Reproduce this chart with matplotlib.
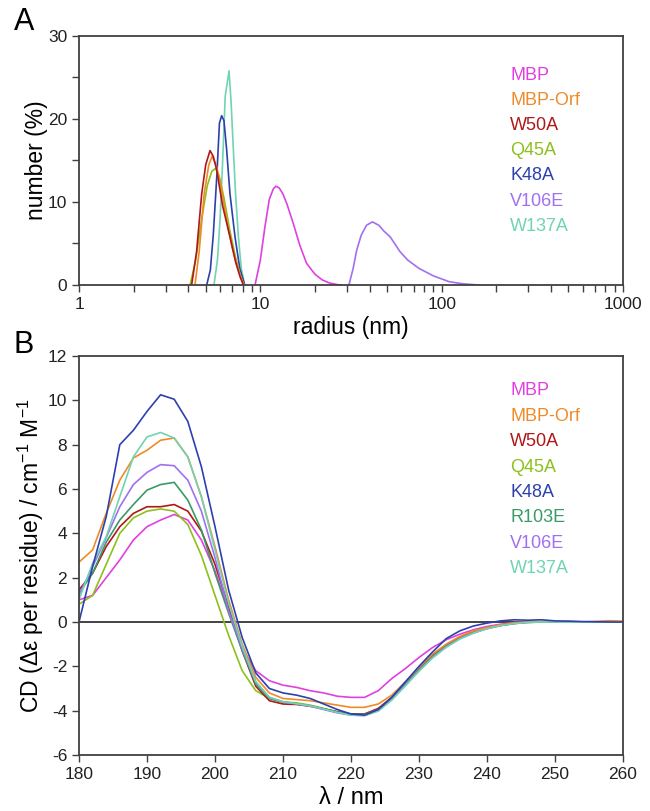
import matplotlib
matplotlib.use("Agg")
import matplotlib.pyplot as plt
from matplotlib.ticker import MultipleLocator, LogLocator, NullFormatter, FixedLocator

plt.rcParams['font.family'] = ['Liberation Sans', 'DejaVu Sans']
plt.rcParams['axes.unicode_minus'] = False

# ---------------- Panel A: DLS size distributions ----------------
names_a = ["MBP", "MBP-Orf", "W50A", "Q45A", "K48A", "V106E", "W137A"]

mbp_r = [9.35, 10.0, 10.6, 11.2, 11.8, 12.2, 12.7, 13.3, 14.0, 15.2, 16.5, 18.0, 20.0, 22.0, 24.0, 26.5, 28.0]
mbp_v = [0, 3.0, 7.0, 10.3, 11.6, 11.9, 11.7, 11.0, 9.8, 7.4, 4.8, 2.6, 1.3, 0.6, 0.25, 0.05, 0]

orf_r = [4.36, 4.6, 4.9, 5.2, 5.42, 5.7, 6.0, 6.5, 7.0, 7.5, 8.0, 8.2]
orf_v = [0, 4.0, 11.0, 14.5, 15.5, 14.5, 12.5, 8.0, 4.5, 2.0, 0.3, 0]

w50a_r = [4.18, 4.45, 4.75, 5.0, 5.28, 5.5, 5.74, 6.2, 6.8, 7.3, 7.73, 8.06]
w50a_v = [0, 4.0, 11.0, 14.5, 16.2, 15.5, 13.9, 9.5, 5.8, 2.8, 1.0, 0]

q45a_r = [4.1, 4.4, 4.75, 5.1, 5.4, 5.67, 5.95, 6.3, 6.8, 7.3, 7.8, 8.1]
q45a_v = [0, 3.0, 8.0, 12.0, 13.7, 14.05, 13.0, 10.5, 6.5, 3.3, 1.0, 0]

k48a_r = [5.06, 5.3, 5.5, 5.75, 5.95, 6.12, 6.3, 6.52, 6.8, 7.25, 7.7, 8.2]
k48a_v = [0, 1.8, 6.0, 13.0, 19.5, 20.4, 19.8, 16.3, 11.0, 5.8, 2.0, 0]

v106e_r = [30.8, 32.5, 34.0, 36.0, 38.5, 41.5, 45.0, 48.0, 52.0, 59.0, 65.0, 75.0, 90.0, 110.0, 130.0, 160.0]
v106e_v = [0, 2.0, 4.2, 6.0, 7.2, 7.6, 7.2, 6.5, 5.8, 4.0, 3.0, 2.0, 1.1, 0.4, 0.15, 0]

w137a_r = [5.55, 5.8, 6.0, 6.2, 6.4, 6.72, 6.9, 7.1, 7.3, 7.57, 7.85, 8.2]
w137a_v = [0, 3.0, 8.0, 15.0, 22.7, 25.8, 22.0, 16.3, 11.0, 5.8, 2.0, 0]

# ---------------- Panel B: CD spectra ----------------
names_b = ["MBP", "MBP-Orf", "W50A", "Q45A", "K48A", "R103E", "V106E", "W137A"]

wl = [180, 182, 184, 186, 188, 190, 192, 194, 196, 198, 200, 202, 204, 206, 208, 210,
      212, 214, 216, 218, 220, 222, 224, 226, 228, 230, 232, 234, 236, 238, 240, 242,
      244, 246, 248, 250, 252, 254, 256, 258, 260]

cd_mbp = [1.0, 1.2, 2.0, 2.8, 3.7, 4.3, 4.6, 4.85, 4.6, 3.7, 2.3, 0.5, -1.2, -2.2, -2.65, -2.85,
          -2.95, -3.1, -3.2, -3.35, -3.4, -3.4, -3.1, -2.55, -2.1, -1.6, -1.15, -0.8, -0.55, -0.35, -0.2, -0.1,
          -0.03, 0.0, 0.0, 0.0, 0.0, 0.0, 0.0, 0.0, 0.0]
cd_orf = [2.7, 3.25, 4.9, 6.4, 7.4, 7.75, 8.2, 8.3, 7.45, 5.65, 3.4, 1.0, -1.0, -2.5, -3.2, -3.45,
          -3.5, -3.55, -3.65, -3.75, -3.85, -3.85, -3.7, -3.3, -2.7, -2.05, -1.45, -1.0, -0.65, -0.4, -0.25, -0.12,
          -0.04, 0.0, 0.02, 0.0, 0.02, 0.0, 0.03, 0.06, 0.04]
cd_w50a = [1.45, 2.2, 3.4, 4.3, 4.9, 5.2, 5.2, 5.3, 5.0, 4.1, 2.6, 0.7, -1.3, -2.9, -3.55, -3.7,
           -3.72, -3.8, -3.92, -4.05, -4.15, -4.15, -3.9, -3.4, -2.75, -2.1, -1.5, -1.05, -0.7, -0.45, -0.28, -0.15,
           -0.06, 0.0, 0.0, 0.0, 0.0, 0.0, 0.0, 0.0, 0.0]
cd_q45a = [0.8, 1.2, 2.6, 4.0, 4.7, 5.0, 5.1, 5.0, 4.4, 3.0, 1.2, -0.6, -2.2, -3.1, -3.45, -3.6,
           -3.65, -3.75, -3.9, -4.05, -4.15, -4.15, -3.95, -3.45, -2.8, -2.15, -1.55, -1.1, -0.72, -0.47, -0.3, -0.16,
           -0.07, -0.02, 0.0, 0.0, 0.0, 0.0, 0.0, 0.0, 0.0]
cd_k48a = [0.0, 2.5, 4.75, 8.0, 8.65, 9.5, 10.25, 10.05, 9.05, 7.0, 4.3, 1.45, -0.7, -2.3, -3.0, -3.2,
           -3.3, -3.45, -3.7, -3.95, -4.15, -4.2, -3.95, -3.4, -2.7, -2.0, -1.35, -0.75, -0.4, -0.18, -0.05, 0.05,
           0.1, 0.08, 0.1, 0.05, 0.04, 0.02, 0.01, 0.0, 0.0]
cd_r103e = [1.3, 2.2, 3.6, 4.6, 5.3, 5.95, 6.2, 6.3, 5.5, 4.15, 2.2, 0.4, -1.3, -2.8, -3.45, -3.62,
            -3.68, -3.78, -3.92, -4.07, -4.17, -4.17, -3.95, -3.45, -2.8, -2.15, -1.55, -1.08, -0.72, -0.46, -0.28, -0.15,
            -0.06, 0.0, 0.0, 0.0, 0.0, 0.0, 0.0, 0.0, 0.0]
cd_v106e = [1.2, 2.5, 3.8, 5.2, 6.2, 6.75, 7.1, 7.05, 6.4, 5.0, 2.9, 0.5, -1.2, -2.7, -3.4, -3.6,
            -3.7, -3.8, -3.95, -4.1, -4.2, -4.22, -4.0, -3.5, -2.85, -2.2, -1.6, -1.12, -0.75, -0.5, -0.3, -0.16,
            -0.07, -0.02, 0.0, 0.0, 0.0, 0.0, 0.0, 0.0, 0.0]
cd_w137a = [1.0, 2.65, 3.85, 5.65, 7.45, 8.35, 8.55, 8.3, 7.45, 5.65, 3.25, 0.85, -1.1, -2.7, -3.4, -3.6,
            -3.68, -3.78, -3.93, -4.08, -4.2, -4.22, -4.02, -3.52, -2.88, -2.22, -1.62, -1.14, -0.77, -0.5, -0.3, -0.16,
            -0.07, -0.02, 0.0, 0.0, 0.0, 0.0, 0.0, 0.0, 0.0]

colors = {
    "MBP": "#e040e0",
    "MBP-Orf": "#f08a28",
    "W50A": "#b01818",
    "Q45A": "#8cc01c",
    "K48A": "#2c40b0",
    "R103E": "#3a9a66",
    "V106E": "#a070f0",
    "W137A": "#70d4b0",
}

data_a = {
    "MBP": (mbp_r, mbp_v), "MBP-Orf": (orf_r, orf_v), "W50A": (w50a_r, w50a_v),
    "Q45A": (q45a_r, q45a_v), "K48A": (k48a_r, k48a_v), "V106E": (v106e_r, v106e_v),
    "W137A": (w137a_r, w137a_v),
}
data_b = {
    "MBP": cd_mbp, "MBP-Orf": cd_orf, "W50A": cd_w50a, "Q45A": cd_q45a,
    "K48A": cd_k48a, "R103E": cd_r103e, "V106E": cd_v106e, "W137A": cd_w137a,
}

W, H = 650, 811
fig = plt.figure(figsize=(W / 100, H / 100), dpi=100)

spine_c = "#404040"

def style(ax):
    for s in ax.spines.values():
        s.set_color(spine_c)
        s.set_linewidth(1.3)
    ax.tick_params(which="both", direction="out", color=spine_c, width=1.0, labelsize=12.5,
                   top=False, right=False, labelcolor="#222222")
    ax.tick_params(which="major", length=5)
    ax.tick_params(which="minor", length=5)

# Panel A
axA = fig.add_axes([79 / W, 1 - 285 / H, (623 - 79) / W, 249 / H])
for n in ["W137A", "K48A", "Q45A", "MBP-Orf", "W50A", "MBP", "V106E"]:
    r, v = data_a[n]
    axA.plot(r, v, color=colors[n], lw=1.2)
axA.set_xscale("log")
axA.set_xlim(1, 1000)
axA.set_ylim(0, 30)
axA.yaxis.set_major_locator(MultipleLocator(10))
axA.yaxis.set_minor_locator(MultipleLocator(5))
axA.xaxis.set_major_locator(FixedLocator([1, 10, 100, 1000]))
axA.xaxis.set_major_formatter(matplotlib.ticker.FuncFormatter(lambda x, p: f"{int(x)}"))
axA.xaxis.set_minor_locator(LogLocator(base=10, subs=range(2, 10), numticks=20))
axA.xaxis.set_minor_formatter(NullFormatter())
style(axA)
axA.set_xlabel("radius (nm)", fontsize=16.5, labelpad=3)
axA.set_ylabel("number (%)", fontsize=16.5, labelpad=0)
for i, n in enumerate(names_a):
    fig.text(510 / W, 1 - (75 + 25.2 * i) / H, n, color=colors[n], fontsize=13,
             ha="left", va="center")
fig.text(14 / W, 1 - 22 / H, "A", fontsize=22, ha="left", va="center")

# Panel B
axB = fig.add_axes([79 / W, 1 - 755 / H, (623 - 79) / W, 399 / H])
axB.axhline(0, color="#222222", lw=1.2, zorder=1)
for n in ["MBP", "Q45A", "W50A", "R103E", "V106E", "MBP-Orf", "W137A", "K48A"]:
    axB.plot(wl, data_b[n], color=colors[n], lw=1.2, zorder=2)
axB.set_xlim(180, 260)
axB.set_ylim(-6, 12)
axB.xaxis.set_major_locator(MultipleLocator(10))
axB.yaxis.set_major_locator(MultipleLocator(2))
style(axB)
axB.set_xlabel("λ / nm", fontsize=17, labelpad=4)
axB.set_ylabel("CD (Δε per residue) / cm$^{\\mathregular{-1}}$ M$^{\\mathregular{-1}}$",
               fontsize=16.5, labelpad=1)
for i, n in enumerate(names_b):
    fig.text(510 / W, 1 - (391 + 25.4 * i) / H, n, color=colors[n], fontsize=13,
             ha="left", va="center")
fig.text(14 / W, 1 - 345 / H, "B", fontsize=22, ha="left", va="center")

fig.savefig("out.png", dpi=100)
